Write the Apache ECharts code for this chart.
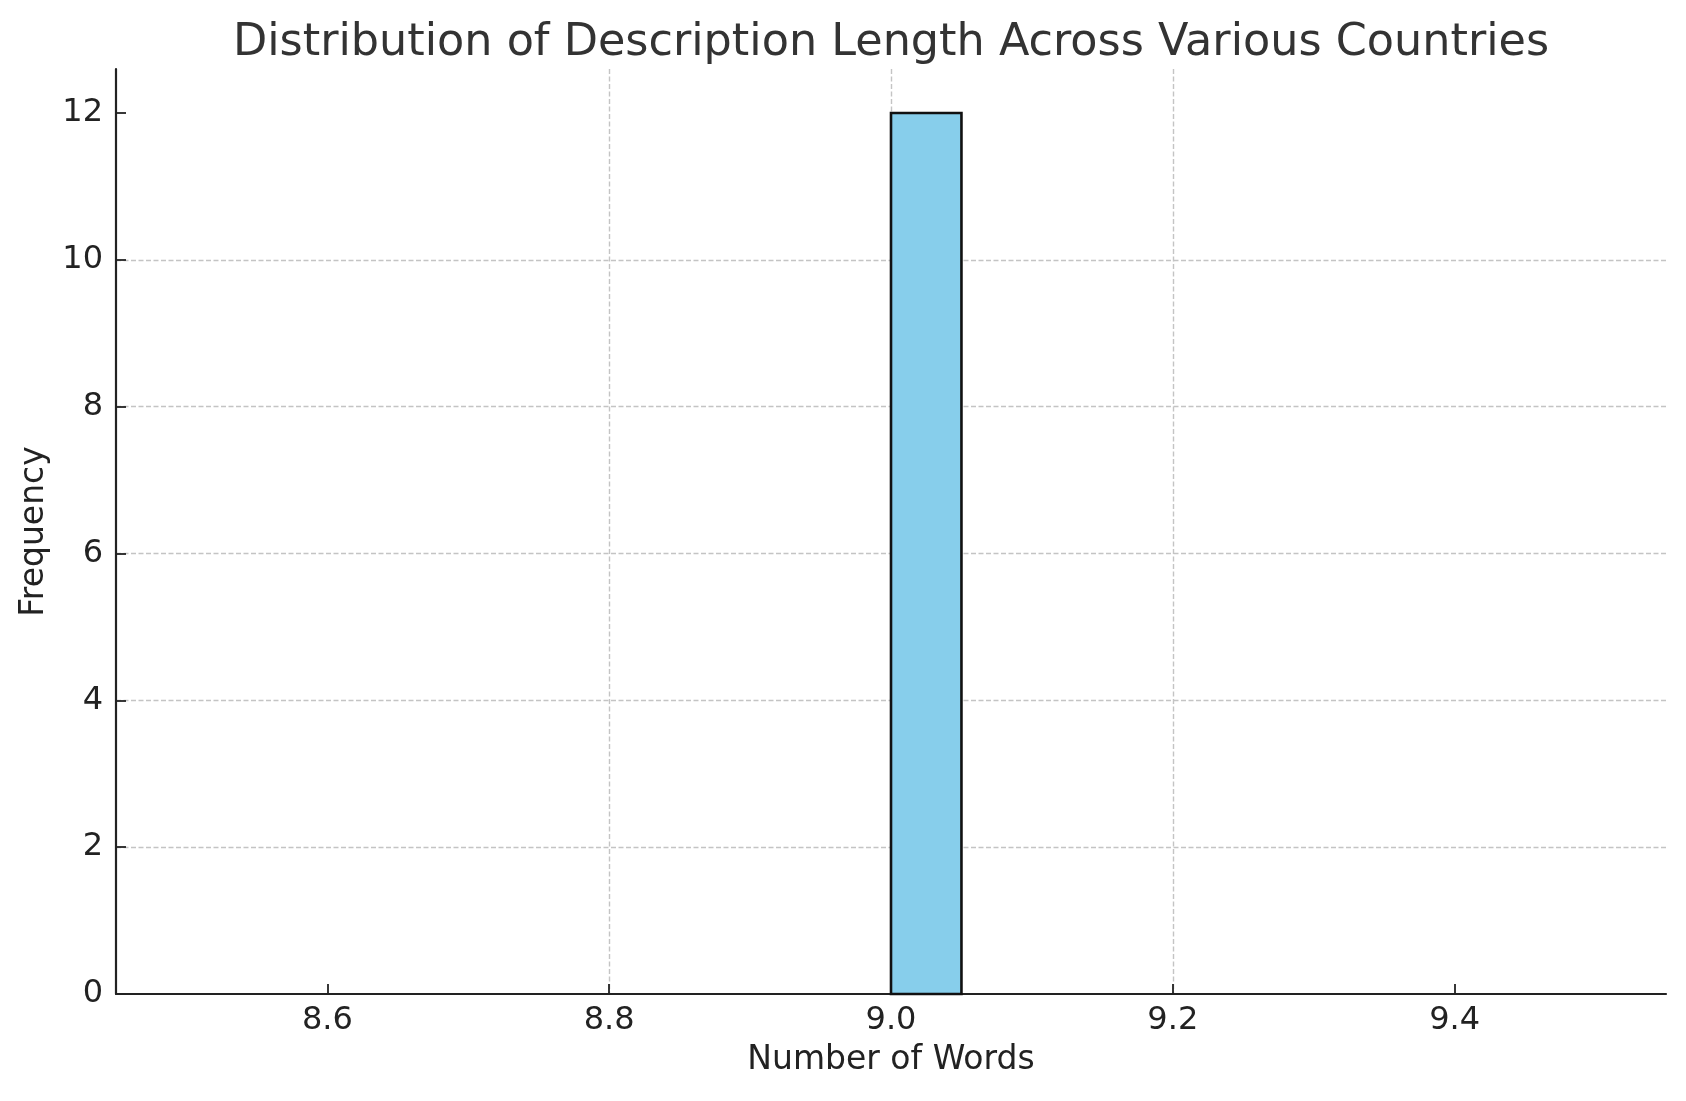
<!DOCTYPE html>
<html>
<head>
<meta charset="utf-8">
<script src="https://cdn.jsdelivr.net/npm/echarts@6/dist/echarts.min.js"></script>
<style>
html,body{margin:0;padding:0;background:#fff;}
#chart{width:1686px;height:1101px;}
</style>
</head>
<body>
<div id="chart"></div>
<script>
// Histogram bins (edges) and counts
const binEdges = [8.50, 8.55, 8.60, 8.65, 8.70, 8.75, 8.80, 8.85, 8.90, 8.95, 9.00,
                  9.05, 9.10, 9.15, 9.20, 9.25, 9.30, 9.35, 9.40, 9.45, 9.50];
const counts = [0, 0, 0, 0, 0, 0, 0, 0, 0, 0, 12, 0, 0, 0, 0, 0, 0, 0, 0, 0];
const xTicks = [8.6, 8.8, 9.0, 9.2, 9.4];
const yTicks = [0, 2, 4, 6, 8, 10, 12];
const titleText = 'Distribution of Description Length Across Various Countries';
const xName = 'Number of Words';
const yName = 'Frequency';

const FONT = '"DejaVu Sans", sans-serif';
const chart = echarts.init(document.getElementById('chart'), null, {renderer: 'canvas'});

const histData = counts.map((c, i) => [binEdges[i], binEdges[i + 1], c]);

const gridLine = {show: true, showMinLine: false, showMaxLine: false,
  lineStyle: {color: '#c4c4c4', width: 1.4, type: [5, 2.5]}};

chart.setOption({
  animation: false,
  backgroundColor: '#ffffff',
  grid: {left: 116, right: 20, top: 69, bottom: 107, containLabel: false},
  graphic: [{
    type: 'text', x: 891, y: 43, z: 10,
    style: {text: titleText, font: '44.5px ' + FONT, fill: '#333333',
      align: 'center', verticalAlign: 'middle'}
  }],
  xAxis: {
    type: 'value', min: 8.45, max: 9.55,
    name: xName, nameLocation: 'middle', nameGap: 50,
    nameTextStyle: {fontFamily: FONT, fontSize: 33, color: '#222'},
    axisLine: {show: true, onZero: false, lineStyle: {color: '#222', width: 2.2}},
    axisTick: {show: true, inside: true, length: 10, customValues: xTicks,
      lineStyle: {color: '#222', width: 1.8}},
    axisLabel: {show: true, margin: 11, customValues: xTicks,
      fontFamily: FONT, fontSize: 32, color: '#222',
      formatter: v => Number(v).toFixed(1)},
    splitLine: gridLine
  },
  yAxis: {
    type: 'value', min: 0, max: 12.6,
    name: yName, nameLocation: 'middle', nameGap: 61,
    nameTextStyle: {fontFamily: FONT, fontSize: 33, color: '#222'},
    axisLine: {show: true, lineStyle: {color: '#222', width: 2.2}},
    axisTick: {show: true, inside: true, length: 10, customValues: yTicks,
      lineStyle: {color: '#222', width: 1.8}},
    axisLabel: {show: true, margin: 13, customValues: yTicks,
      fontFamily: FONT, fontSize: 32, color: '#222'},
    splitLine: gridLine
  },
  series: [{
    type: 'custom',
    data: histData,
    encode: {x: [0, 1], y: 2},
    renderItem: function (params, api) {
      const c = api.value(2);
      if (!c) return null;
      const p0 = api.coord([api.value(0), 0]);
      const p1 = api.coord([api.value(1), c]);
      return {
        type: 'rect',
        shape: {x: p0[0], y: p1[1], width: p1[0] - p0[0], height: p0[1] - p1[1]},
        style: {fill: '#87CEEB', stroke: '#111', lineWidth: 2.6}
      };
    },
    z: 3
  }]
});
</script>
</body>
</html>
